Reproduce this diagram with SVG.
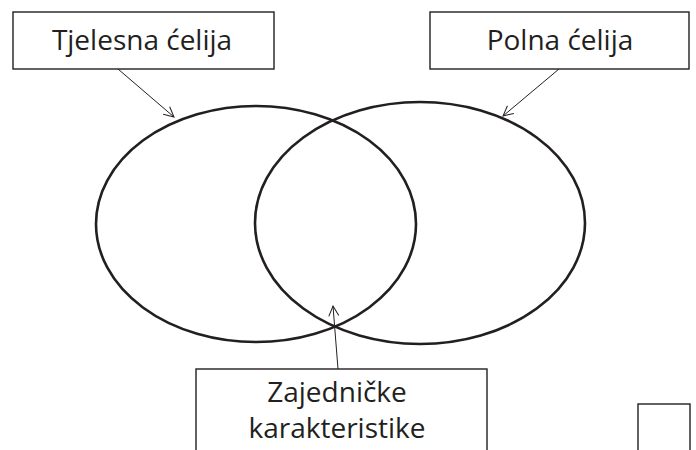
<svg xmlns="http://www.w3.org/2000/svg" width="696" height="450" viewBox="0 0 696 450">
<defs>
<style>
.box{fill:#fff;stroke:#231f20;stroke-width:1.4}
.ell{fill:none;stroke:#231f20;stroke-width:2.6}
.lbl{font-family:"Open Sans","Noto Sans",sans-serif;font-size:28px;fill:#231f20;text-anchor:middle}
.conn{stroke:#231f20;stroke-width:1;fill:none}
</style>
<marker id="arr" viewBox="0 0 12 12" refX="11" refY="6" markerWidth="12" markerHeight="12" markerUnits="userSpaceOnUse" orient="auto">
<path d="M1,1 L11,6 L1,11" fill="none" stroke="#231f20" stroke-width="1"/>
</marker>
</defs>
<rect width="696" height="450" fill="#fff"/>
<g id="ellipses">
<ellipse class="ell" cx="256" cy="224" rx="160" ry="118"/>
<ellipse class="ell" cx="420" cy="223" rx="165" ry="121"/>
</g>
<g id="node-tjelesna">
<rect class="box" x="13" y="12" width="261" height="57"/>
<text class="lbl" x="142" y="50">Tjelesna ćelija</text>
</g>
<g id="node-polna">
<rect class="box" x="430" y="12" width="259" height="57"/>
<text class="lbl" x="560" y="50">Polna ćelija</text>
</g>
<g id="node-zajednicke">
<rect class="box" x="196" y="369" width="291" height="90"/>
<text class="lbl" x="337" y="402">Zajedničke</text>
<text class="lbl" x="337" y="438">karakteristike</text>
</g>
<g id="node-empty">
<rect class="box" x="638" y="404" width="52" height="60"/>
</g>
<g id="connectors">
<line class="conn" x1="118" y1="69" x2="174" y2="117" marker-end="url(#arr)"/>
<line class="conn" x1="559" y1="69" x2="503" y2="116" marker-end="url(#arr)"/>
<line class="conn" x1="338" y1="369" x2="333" y2="306" marker-end="url(#arr)"/>
</g>
</svg>
